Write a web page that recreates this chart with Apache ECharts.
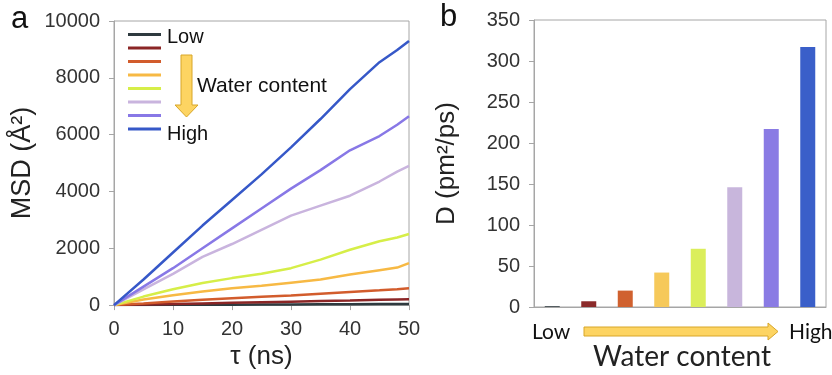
<!DOCTYPE html>
<html>
<head>
<meta charset="utf-8">
<script src="https://cdn.jsdelivr.net/npm/echarts@6/dist/echarts.min.js"></script>
<style>html,body{margin:0;padding:0;background:#fff;}#c{width:832px;height:375px;}</style>
</head>
<body>
<div id="c"></div>
<script>
// ---- data ----
const tValues = [0, 5, 10, 15, 20, 25, 30, 35, 40, 45, 48, 50];
const seriesNames = ['Low', 's2', 's3', 's4', 's5', 's6', 's7', 'High'];
const msdBlack    = [0, 4, 8, 12, 16, 20, 24, 28, 32, 36, 38, 40];
const msdDarkRed  = [0, 20, 40, 60, 80, 100, 120, 140, 160, 185, 200, 210];
const msdOrange   = [0, 60, 130, 190, 240, 290, 340, 400, 460, 520, 560, 590];
const msdYellow   = [0, 200, 350, 480, 590, 680, 790, 900, 1080, 1230, 1320, 1480];
const msdLime     = [0, 300, 560, 780, 950, 1100, 1300, 1600, 1950, 2250, 2380, 2500];
const msdLavender = [0, 550, 1100, 1700, 2150, 2650, 3150, 3500, 3850, 4350, 4700, 4900];
const msdPurple   = [0, 650, 1300, 2000, 2700, 3400, 4100, 4750, 5450, 5950, 6350, 6650];
const msdBlue     = [0, 900, 1850, 2800, 3700, 4600, 5550, 6550, 7600, 8550, 8980, 9300];
const msdSeries = [msdBlack, msdDarkRed, msdOrange, msdYellow, msdLime, msdLavender, msdPurple, msdBlue];
const barCategories = ['1', '2', '3', '4', '5', '6', '7', '8'];
const dValues = [1, 7, 20, 42, 71, 146, 217, 317];
const lineColors = ['#2e3a3f', '#8b2626', '#d25c2c', '#f7b944', '#d6ee48', '#c9b4de', '#8878e6', '#3658c8'];
const barColors  = ['#3a4448', '#8b2a2a', '#d0612f', '#f6c95a', '#dbee5b', '#c8b6dc', '#8a7be4', '#3a5fc9'];
const msdTicks = {min: 0, max: 10000, interval: 2000};
const tTicks = {min: 0, max: 50, interval: 10};
const dTicks = {min: 0, max: 350, interval: 50};

const FONT = "'Liberation Sans', Arial, sans-serif";
const FONT2 = "Lato, 'Open Sans', sans-serif";
const axisGray = '#a6a6a6';
const textCol = '#333';
const plain = v => String(v);

const chart = echarts.init(document.getElementById('c'), null, {renderer: 'canvas'});

const lineSeries = msdSeries.map((arr, i) => ({
  name: seriesNames[i],
  type: 'line',
  xAxisIndex: 0, yAxisIndex: 0,
  data: tValues.map((t, j) => [t, arr[j]]),
  showSymbol: false,
  symbol: 'none',
  lineStyle: {color: lineColors[i], width: 2.5},
  itemStyle: {color: lineColors[i]},
  z: i + 2,
  silent: true
}));

const option = {
  animation: false,
  backgroundColor: '#fff',
  textStyle: {fontFamily: FONT},
  grid: [
    {left: 114, top: 21, right: 423, bottom: 69, show: true, borderColor: axisGray, borderWidth: 1, containLabel: false},
    {left: 534, top: 20, right: 6, bottom: 68, show: true, borderColor: axisGray, borderWidth: 1, containLabel: false}
  ],
  legend: {
    data: seriesNames,
    orient: 'vertical',
    left: 128, top: 33,
    padding: 0,
    icon: 'rect',
    itemWidth: 33, itemHeight: 3, itemGap: 10.5,
    selectedMode: false,
    formatter: () => '',
    textStyle: {fontSize: 1, lineHeight: 1, color: '#111', fontFamily: FONT}
  },
  xAxis: [
    {
      gridIndex: 0, type: 'value', min: tTicks.min, max: tTicks.max, interval: tTicks.interval,
      name: 'τ (ns)', nameLocation: 'middle', nameGap: 31,
      nameTextStyle: {fontSize: 26, color: '#222', fontFamily: FONT},
      axisLine: {show: true, lineStyle: {color: axisGray}},
      axisTick: {show: true, length: 5, lineStyle: {color: axisGray}},
      axisLabel: {fontSize: 20, color: textCol, margin: 14, fontFamily: FONT, formatter: plain},
      splitLine: {show: false}
    },
    {
      gridIndex: 1, type: 'category', data: barCategories,
      axisLine: {show: true, lineStyle: {color: axisGray}},
      axisTick: {show: false},
      axisLabel: {show: false},
      splitLine: {show: false}
    }
  ],
  yAxis: [
    {
      gridIndex: 0, type: 'value', min: msdTicks.min, max: msdTicks.max, interval: msdTicks.interval,
      name: 'MSD (Å²)', nameLocation: 'middle', nameGap: 78, nameRotate: 90,
      nameTextStyle: {fontSize: 27, color: '#222', fontFamily: FONT},
      axisLine: {show: true, lineStyle: {color: axisGray}},
      axisTick: {show: true, length: 5, lineStyle: {color: axisGray}},
      axisLabel: {fontSize: 20, color: textCol, margin: 14, fontFamily: FONT, formatter: plain},
      splitLine: {show: false}
    },
    {
      gridIndex: 1, type: 'value', min: dTicks.min, max: dTicks.max, interval: dTicks.interval,
      name: 'D (pm²/ps)', nameLocation: 'middle', nameGap: 74, nameRotate: 90,
      nameTextStyle: {fontSize: 26, color: '#222', fontFamily: FONT},
      axisLine: {show: true, lineStyle: {color: axisGray}},
      axisTick: {show: true, length: 5, lineStyle: {color: axisGray}},
      axisLabel: {fontSize: 20, color: textCol, margin: 14, fontFamily: FONT, formatter: plain},
      splitLine: {show: false}
    }
  ],
  series: lineSeries.concat([{
    type: 'bar',
    name: 'D',
    xAxisIndex: 1, yAxisIndex: 1,
    data: dValues.map((v, i) => ({value: v, itemStyle: {color: barColors[i]}})),
    barWidth: 15,
    silent: true
  }]),
  graphic: [
    {type: 'text', left: 11, top: 4, style: {text: 'a', fontSize: 31, fill: '#111', fontFamily: FONT}},
    {type: 'text', left: 440, top: 2, style: {text: 'b', fontSize: 31, fill: '#111', fontFamily: FONT}},
    {type: 'text', x: 167, y: 37, style: {text: 'Low', fontSize: 20, fill: '#111', fontFamily: FONT, textVerticalAlign: 'middle'}},
    {type: 'text', x: 167, y: 134, style: {text: 'High', fontSize: 20, fill: '#111', fontFamily: FONT, textVerticalAlign: 'middle'}},
    // legend down arrow
    {type: 'polygon', shape: {points: [[181, 55], [192, 55], [192, 105], [198, 105], [186.5, 117], [175, 105], [181, 105]]},
     style: {fill: '#fdd462', stroke: '#d8a628', lineWidth: 1}},
    {type: 'text', x: 197, y: 86, style: {text: 'Water content', fontSize: 21, fill: '#111', fontFamily: FONT, textVerticalAlign: 'middle'}},
    // bottom axis annotation
    {type: 'text', x: 532, y: 332, style: {text: 'Low', fontSize: 21, fill: '#111', fontFamily: FONT2, textVerticalAlign: 'middle'}},
    {type: 'text', x: 789, y: 332, style: {text: 'High', fontSize: 21, fill: '#111', fontFamily: FONT2, textVerticalAlign: 'middle'}},
    {type: 'polygon', shape: {points: [[584, 327], [768, 327], [768, 323], [778, 331.5], [768, 340], [768, 336], [584, 336]]},
     style: {fill: '#fdd462', stroke: '#d8a628', lineWidth: 1}},
    {type: 'text', x: 682, y: 357, style: {text: 'Water content', fontSize: 28, fill: '#222', fontFamily: FONT2, textAlign: 'center', textVerticalAlign: 'middle'}}
  ]
};
chart.setOption(option);
</script>
</body>
</html>
